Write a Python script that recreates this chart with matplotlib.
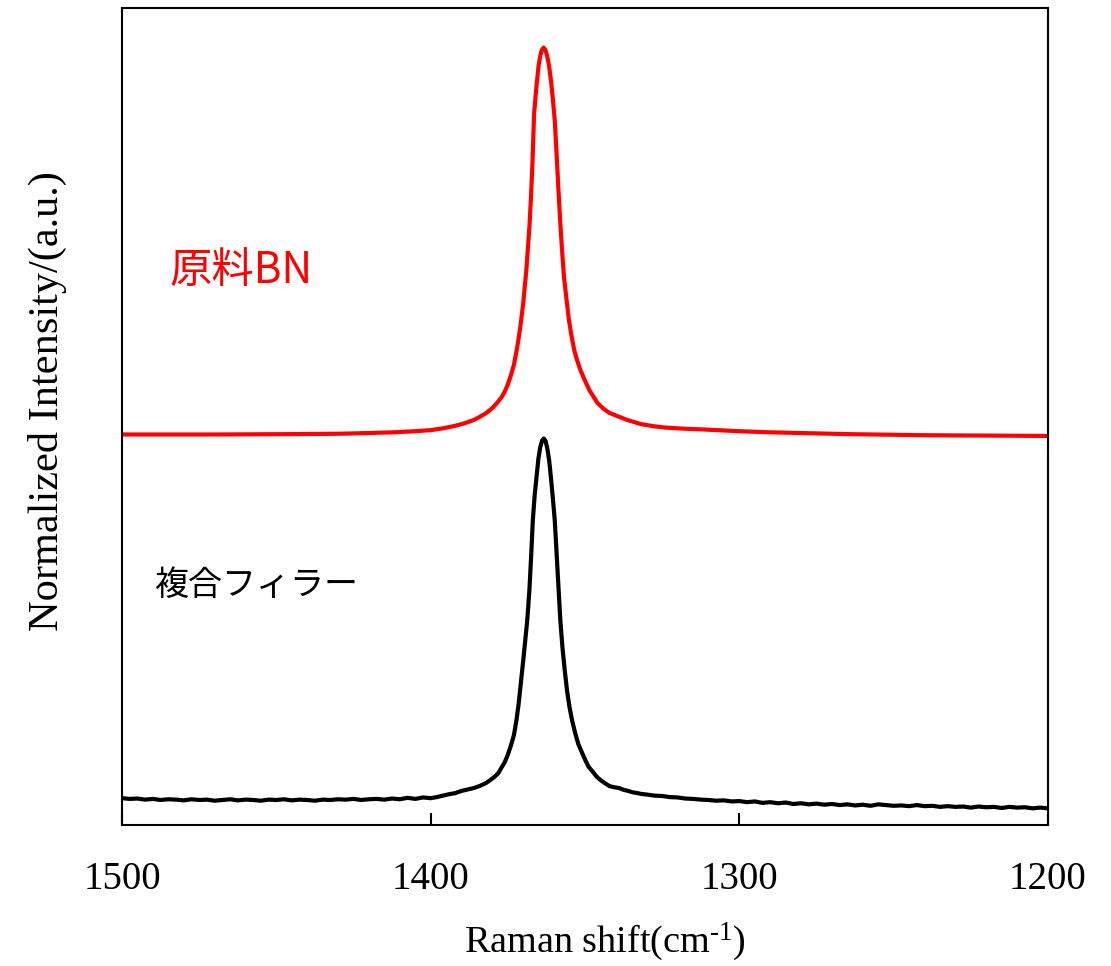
import numpy as np
import matplotlib
matplotlib.use("Agg")
import matplotlib.pyplot as plt

plt.rcParams['mathtext.fontset'] = 'custom'
plt.rcParams['mathtext.rm'] = 'Liberation Serif'
plt.rcParams['mathtext.it'] = 'Liberation Serif'

# ---------------- data ----------------
# Black curve: 複合フィラー
black_left_x = np.arange(1500.0, 1399.0, -2.5)
black_left_y = [0.005, 0.003, 0.004, 0.001, 0.003, 0.000, 0.002, 0.001, -0.001, 0.002,
                0.000, 0.001, -0.002, 0.000, 0.002, -0.001, 0.001, 0.000, -0.002, 0.001,
                0.000, 0.002, -0.001, 0.001, 0.000, -0.002, 0.001, 0.000, 0.002, 0.001,
                0.003, 0.000, 0.002, 0.003, 0.001, 0.004, 0.002, 0.006, 0.003, 0.007, 0.005]
black_peak_x = [1398.0, 1396.0, 1394.0, 1392.0, 1390.0, 1388.0, 1386.0, 1384.0, 1382.0, 1380.5,
                1379.0, 1378.0, 1377.0, 1376.0, 1375.0, 1374.0, 1373.0, 1372.2, 1371.5, 1370.8,
                1370.0, 1369.3, 1368.7, 1368.0, 1367.4, 1366.9, 1366.3, 1365.7, 1365.1, 1364.5,
                1363.9, 1363.4, 1362.8, 1362.2, 1361.6, 1361.0, 1360.4, 1359.8, 1359.2, 1358.6,
                1358.0, 1357.3, 1356.6, 1355.8, 1355.0, 1354.2, 1353.2, 1352.2, 1350.9, 1349.8,
                1348.8, 1347.5, 1346.3, 1345.0, 1343.5, 1342.0, 1340.5, 1339.0, 1337.5, 1336.0,
                1334.5, 1333.0, 1332.0]
black_peak_y = [0.008, 0.012, 0.016, 0.019, 0.025, 0.029, 0.033, 0.039, 0.047, 0.056,
                0.066, 0.075, 0.090, 0.104, 0.125, 0.150, 0.180, 0.220, 0.265, 0.320,
                0.385, 0.445, 0.496, 0.580, 0.680, 0.771, 0.840, 0.890, 0.940, 0.972,
                0.990, 0.996, 0.990, 0.968, 0.935, 0.885, 0.830, 0.771, 0.680, 0.590,
                0.496, 0.420, 0.360, 0.300, 0.255, 0.220, 0.185, 0.155, 0.129, 0.108,
                0.091, 0.078, 0.065, 0.055, 0.046, 0.038, 0.035, 0.033, 0.028, 0.025,
                0.021, 0.019, 0.017]
black_right_x = np.arange(1330.0, 1199.0, -2.5)
black_right_y = [0.015, 0.012, 0.011, 0.008, 0.007, 0.004, 0.003, 0.001, 0.000, -0.002,
                 -0.001, -0.004, -0.003, -0.006, -0.004, -0.008, -0.006, -0.009, -0.007, -0.011,
                 -0.009, -0.012, -0.010, -0.013, -0.011, -0.014, -0.012, -0.015, -0.013, -0.016,
                 -0.012, -0.014, -0.016, -0.015, -0.017, -0.014, -0.017, -0.016, -0.019, -0.017,
                 -0.019, -0.018, -0.021, -0.018, -0.020, -0.019, -0.022, -0.019, -0.021, -0.020,
                 -0.023, -0.021, -0.023]

# Red curve: 原料BN (offset upward)
red_x = [1500.0, 1470.0, 1445.0, 1430.0, 1420.0, 1412.0, 1405.0, 1400.0, 1396.0, 1392.0,
         1389.0, 1386.0, 1384.0, 1382.0, 1380.0, 1378.5, 1377.0, 1376.0, 1375.0, 1374.0,
         1373.0, 1372.0, 1371.0, 1370.0, 1369.0, 1368.5, 1368.0, 1367.5, 1367.0, 1366.5,
         1366.0, 1365.5, 1365.0, 1364.5, 1364.0, 1363.4, 1362.8, 1362.2, 1361.6, 1361.0,
         1360.4, 1359.8, 1359.2, 1358.6, 1358.0, 1357.4, 1356.8, 1356.0, 1355.2, 1354.4,
         1353.5, 1352.5, 1351.5, 1350.0, 1348.5, 1347.0, 1346.0, 1344.0, 1342.0, 1339.0,
         1336.3, 1332.0, 1328.0, 1324.0, 1318.0, 1312.0, 1300.0, 1290.0, 1280.0, 1265.0,
         1240.0, 1200.0]
red_y = [1.007, 1.007, 1.008, 1.009, 1.011, 1.013, 1.016, 1.019, 1.024, 1.031,
         1.038, 1.047, 1.056, 1.066, 1.080, 1.094, 1.110, 1.125, 1.145, 1.170,
         1.200, 1.245, 1.300, 1.370, 1.460, 1.520, 1.580, 1.660, 1.760, 1.890,
         1.940, 1.985, 2.025, 2.050, 2.066, 2.073, 2.066, 2.048, 2.020, 1.980,
         1.930, 1.873, 1.780, 1.680, 1.590, 1.510, 1.440, 1.380, 1.322, 1.280,
         1.240, 1.210, 1.185, 1.155, 1.128, 1.108, 1.094, 1.078, 1.066, 1.056,
         1.047, 1.036, 1.030, 1.026, 1.023, 1.021, 1.016, 1.013, 1.011, 1.008,
         1.005, 1.003]

x_ticks = [1500, 1400, 1300, 1200]
x_label = "Raman shift(cm$^{\\text{-1}}$)"
y_label = "Normalized Intensity/(a.u.)"
label_red = "原料BN"
label_black = "複合フィラー"

# ---------------- figure ----------------
W, H = 1111, 966
fig = plt.figure(figsize=(W / 100, H / 100), dpi=100)
ax = fig.add_axes([122 / W, 1 - 825 / H, (1048 - 122) / W, (825 - 8) / H])

bx = np.concatenate([black_left_x, black_peak_x, black_right_x])
by = np.concatenate([black_left_y, black_peak_y, black_right_y])
ax.plot(bx, by, color='black', lw=3.0, solid_joinstyle='round')
ax.plot(red_x, red_y, color='#ff0000', lw=3.0, solid_joinstyle='round')

ax.set_xlim(1500, 1200)
ax.set_ylim(-0.0689, 2.182)
ax.set_xticks(x_ticks)
ax.set_xticklabels([str(t) for t in x_ticks], family='Liberation Serif', fontsize=28)
ax.set_yticks([])
ax.tick_params(axis='x', direction='in', length=9, width=1.5, pad=26)
for s in ax.spines.values():
    s.set_linewidth(1.5)

fig.text(605 / W, 1 - 942 / H, x_label, family='Liberation Serif', fontsize=27.5,
         ha='center', va='center')
fig.text(47 / W, 1 - 401 / H, y_label, family='Liberation Serif', fontsize=30.5,
         ha='center', va='center', rotation=90)

cjk = ['Noto Sans CJK JP', 'DejaVu Sans']
ax.text(1484.6, 1.458, label_red, color='#ff0000', family=cjk, fontsize=30.5,
        ha='left', va='center')
ax.text(1489.5, 0.590, label_black, color='black', family=cjk, fontsize=24.5,
        ha='left', va='center')

fig.savefig('out.png', dpi=100)
